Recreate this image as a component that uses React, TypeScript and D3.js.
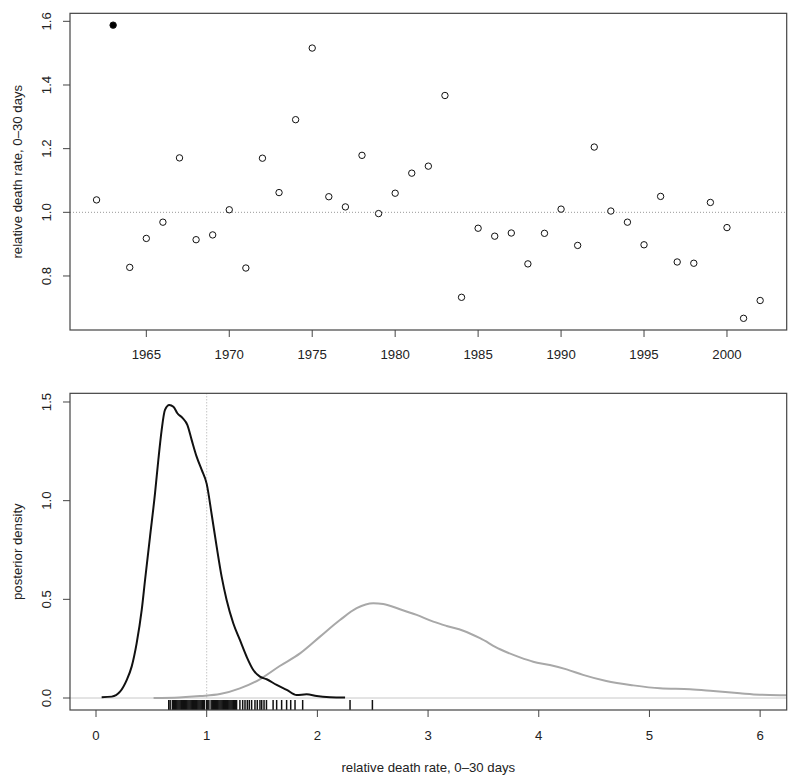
import React from "react";
import * as d3 from "d3";

// ---------- Top panel data ----------
const years = [1962,1963,1964,1965,1966,1967,1968,1969,1970,1971,1972,1973,1974,1975,1976,1977,1978,1979,1980,1981,1982,1983,1984,1985,1986,1987,1988,1989,1990,1991,1992,1993,1994,1995,1996,1997,1998,1999,2000,2001,2002];
const rates = [1.039,1.588,0.827,0.918,0.969,1.171,0.914,0.929,1.008,0.825,1.170,1.062,1.291,1.516,1.049,1.017,1.179,0.996,1.060,1.123,1.145,1.367,0.733,0.950,0.925,0.935,0.838,0.934,1.010,0.896,1.205,1.004,0.969,0.898,1.050,0.844,0.840,1.031,0.952,0.667,0.723];
const highlightYear = 1963;
const topYTicks = [0.8, 1.0, 1.2, 1.4, 1.6];
const topXTicks = [1965, 1970, 1975, 1980, 1985, 1990, 1995, 2000];

// ---------- Bottom panel data ----------
const blackX = [0.051,0.142,0.217,0.277,0.322,0.367,0.413,0.443,0.488,0.533,0.563,0.593,0.623,0.662,0.699,0.735,0.783,0.825,0.864,0.909,0.955,1.0,1.045,1.09,1.135,1.18,1.24,1.30,1.361,1.421,1.481,1.542,1.632,1.723,1.813,1.903,1.994,2.114,2.25];
const blackD = [0.004,0.007,0.032,0.091,0.159,0.277,0.446,0.598,0.818,1.037,1.206,1.358,1.46,1.485,1.476,1.443,1.418,1.384,1.308,1.223,1.156,1.085,0.93,0.767,0.615,0.497,0.379,0.294,0.209,0.142,0.108,0.095,0.066,0.041,0.015,0.019,0.01,0.004,0.002];
const greyX = [0.52,0.75,0.94,1.12,1.30,1.48,1.66,1.843,2.024,2.204,2.355,2.505,2.595,2.746,2.897,3.047,3.168,3.318,3.469,3.65,3.83,3.95,4.1,4.252,4.40,4.61,4.854,5.095,5.366,5.576,5.818,5.998,6.24,6.5];
const greyD = [0.0,0.003,0.01,0.02,0.049,0.095,0.162,0.226,0.311,0.395,0.455,0.48,0.476,0.45,0.421,0.387,0.365,0.341,0.303,0.247,0.206,0.184,0.167,0.145,0.117,0.086,0.064,0.049,0.044,0.035,0.024,0.017,0.014,0.012];
const rugValues = [0.657,0.67,
  0.69,0.70,0.71,0.72,0.73,0.74,0.75,0.76,0.77,0.78,0.79,0.80,0.81,0.82,0.83,0.84,0.85,0.86,0.87,0.88,0.89,0.90,0.91,0.92,0.93,0.94,0.95,0.96,0.97,0.98,
  1.00,1.01,1.02,1.04,1.05,1.06,1.07,1.08,1.09,1.10,1.11,1.12,1.13,1.14,1.15,1.16,1.17,1.18,1.19,1.20,1.21,1.22,1.23,1.24,1.25,1.26,
  1.27,1.30,1.325,1.346,1.367,1.385,1.406,1.436,1.457,1.481,1.497,1.518,1.54,1.60,1.632,1.677,1.722,1.759,1.798,1.867,2.295,2.497];
const botXTicks = [0, 1, 2, 3, 4, 5, 6];
const botYTicks = [0.0, 0.5, 1.0, 1.5];

const yTitle = "relative death rate, 0\u201330 days";
const yTitle2 = "posterior density";
const xTitle2 = "relative death rate, 0\u201330 days";

const FONT = "'Liberation Sans', Arial, Helvetica, sans-serif";
const FS = 13.2;
const TXT = "#222";
const AX = "#444";

export default function App() {
  const L = 70, R = 786.7;
  // top panel
  const tTop = 13.33, tBot = 330;
  const xT = d3.scaleLinear().domain([1960.4, 2003.6]).range([L, R]);
  const yT = d3.scaleLinear().domain([0.6303, 1.6251]).range([tBot, tTop]);
  // bottom panel
  const bTop = 393.33, bBot = 710;
  const xB = d3.scaleLinear().domain([-0.235, 6.24]).range([L, R]);
  const yB = d3.scaleLinear().domain([-0.0608, 1.5439]).range([bBot, bTop]);

  const line = d3.line<[number, number]>().x(d => xB(d[0])).y(d => yB(d[1])).curve(d3.curveMonotoneX);
  const blackPath = line(blackX.map((x, i) => [x, blackD[i]] as [number, number])) || "";
  const greyPath = line(greyX.map((x, i) => [x, greyD[i]] as [number, number])) || "";

  return (
    <svg width={800} height={782} style={{ position: "absolute", left: 0, top: 0, background: "#fff" }} fontFamily={FONT}>
      <defs>
        <clipPath id="clipB"><rect x={L} y={bTop} width={R - L} height={bBot - bTop} /></clipPath>
      </defs>
      {/* ---------- TOP PANEL ---------- */}
      <line x1={L} x2={R} y1={yT(1)} y2={yT(1)} stroke="#999" strokeWidth={1} strokeDasharray="1,2" />
      {years.map((yr, i) => (
        <circle key={yr} cx={xT(yr)} cy={yT(rates[i])} r={3.2}
          fill={yr === highlightYear ? "#000" : "#fff"} stroke="#111" strokeWidth={1} />
      ))}
      <rect x={L} y={tTop} width={R - L} height={tBot - tTop} fill="none" stroke={AX} strokeWidth={1.2} />
      {topYTicks.map(t => (
        <g key={t}>
          <line x1={L - 7} x2={L} y1={yT(t)} y2={yT(t)} stroke={AX} />
          <text transform={`translate(46,${yT(t)}) rotate(-90)`} textAnchor="middle" dominantBaseline="central" fontSize={FS} fill={TXT}>{t.toFixed(1)}</text>
        </g>
      ))}
      {topXTicks.map(t => (
        <g key={t}>
          <line x1={xT(t)} x2={xT(t)} y1={tBot} y2={tBot + 7} stroke={AX} />
          <text x={xT(t)} y={354} textAnchor="middle" dominantBaseline="central" fontSize={FS} fill={TXT}>{t}</text>
        </g>
      ))}
      <text transform={`translate(17.5,${(tTop + tBot) / 2}) rotate(-90)`} textAnchor="middle" dominantBaseline="central" fontSize={FS} fill={TXT}>{yTitle}</text>

      {/* ---------- BOTTOM PANEL ---------- */}
      <line x1={L} x2={R} y1={yB(0)} y2={yB(0)} stroke="#c8c8c8" strokeWidth={1} />
      <line x1={xB(1)} x2={xB(1)} y1={bTop} y2={yB(0)} stroke="#aaa" strokeWidth={1} strokeDasharray="1,2" />
      <g clipPath="url(#clipB)">
        <path d={greyPath} fill="none" stroke="#a8a8a8" strokeWidth={2} />
        <path d={blackPath} fill="none" stroke="#111" strokeWidth={2} />
      </g>
      {rugValues.map((v, i) => (
        <line key={i} x1={xB(v)} x2={xB(v)} y1={bBot - 10} y2={bBot} stroke="#111" strokeWidth={1.5} />
      ))}
      <rect x={L} y={bTop} width={R - L} height={bBot - bTop} fill="none" stroke={AX} strokeWidth={1.2} />
      {botYTicks.map(t => (
        <g key={t}>
          <line x1={L - 7} x2={L} y1={yB(t)} y2={yB(t)} stroke={AX} />
          <text transform={`translate(46,${yB(t)}) rotate(-90)`} textAnchor="middle" dominantBaseline="central" fontSize={FS} fill={TXT}>{t.toFixed(1)}</text>
        </g>
      ))}
      {botXTicks.map(t => (
        <g key={t}>
          <line x1={xB(t)} x2={xB(t)} y1={bBot} y2={bBot + 7} stroke={AX} />
          <text x={xB(t)} y={735} textAnchor="middle" dominantBaseline="central" fontSize={FS} fill={TXT}>{t}</text>
        </g>
      ))}
      <text transform={`translate(17.5,${(bTop + bBot) / 2}) rotate(-90)`} textAnchor="middle" dominantBaseline="central" fontSize={FS} fill={TXT}>{yTitle2}</text>
      <text x={(L + R) / 2} y={767} textAnchor="middle" dominantBaseline="central" fontSize={FS} fill={TXT}>{xTitle2}</text>
    </svg>
  );
}
